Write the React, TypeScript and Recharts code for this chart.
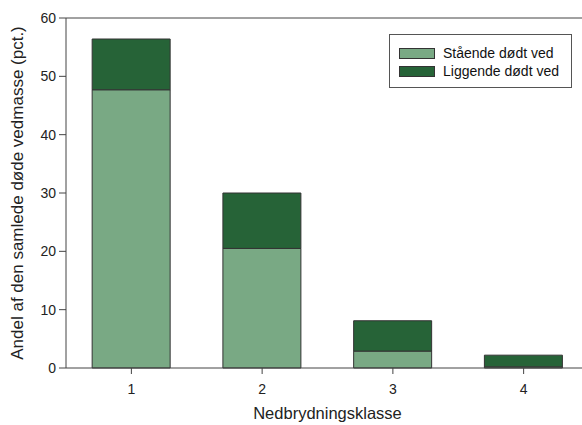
import React from "react";
import { BarChart, Bar, XAxis, YAxis, ReferenceLine } from "recharts";

const categories = ["1", "2", "3", "4"];
const staaende = [47.7, 20.5, 2.9, 0.2];
const liggende = [8.7, 9.5, 5.2, 2.0];
const yTicks = [0, 10, 20, 30, 40, 50, 60];
const seriesNames = ["Stående dødt ved", "Liggende dødt ved"];

const LIGHT = "#79a984";
const DARK = "#266337";
const FONT = "'Liberation Sans', Arial, sans-serif";

const data = categories.map((c, i) => ({ klasse: c, s: staaende[i], l: liggende[i] }));

const LegendBox = () => (
  <div
    style={{
      position: "absolute",
      left: 389,
      top: 34,
      border: "1px solid #555",
      background: "#fff",
      width: 183,
      height: 54,
      boxSizing: "border-box",
      padding: "9px 0 0 9px",
      fontFamily: FONT,
      fontSize: 14,
      color: "#111",
    }}
  >
    {[LIGHT, DARK].map((col, i) => (
      <div key={i} style={{ display: "flex", alignItems: "center", height: 18 }}>
        <span
          style={{
            display: "inline-block",
            width: 34,
            height: 9,
            background: col,
            border: "1px solid #333",
            marginRight: 8,
          }}
        />
        <span>{seriesNames[i]}</span>
      </div>
    ))}
  </div>
);

export default function App() {
  return (
    <div style={{ position: "absolute", left: 0, top: 0, width: 582, height: 425, overflow: "hidden", background: "#fff" }}>
      <BarChart
        width={600}
        height={425}
        data={data}
        margin={{ top: 18, right: 11, bottom: 0, left: 0 }}
        barCategoryGap="20%"
      >
        <XAxis
          dataKey="klasse"
          height={57}
          stroke="#444"
          tick={{ fill: "#222", fontSize: 14, fontFamily: FONT }}
          tickSize={6}
          tickMargin={10}
          label={{ value: "Nedbrydningsklasse", position: "insideBottom", offset: 6, fill: "#222", fontSize: 16.5, fontFamily: FONT }}
        />
        <YAxis
          width={66}
          domain={[0, 60]}
          ticks={yTicks}
          stroke="#444"
          tick={{ fill: "#222", fontSize: 14, fontFamily: FONT }}
          tickSize={7}
          tickMargin={3}
          label={{
            value: "Andel af den samlede døde vedmasse (pct.)",
            angle: -90,
            position: "insideLeft",
            offset: 17,
            style: { textAnchor: "middle" },
            fill: "#222",
            fontSize: 17,
            fontFamily: FONT,
          }}
        />
        <ReferenceLine y={60} stroke="#444" />
        <Bar dataKey="s" stackId="a" fill={LIGHT} stroke="#333" strokeWidth={1} isAnimationActive={false} />
        <Bar dataKey="l" stackId="a" fill={DARK} stroke="#333" strokeWidth={1} isAnimationActive={false} />
      </BarChart>
      <LegendBox />
    </div>
  );
}
